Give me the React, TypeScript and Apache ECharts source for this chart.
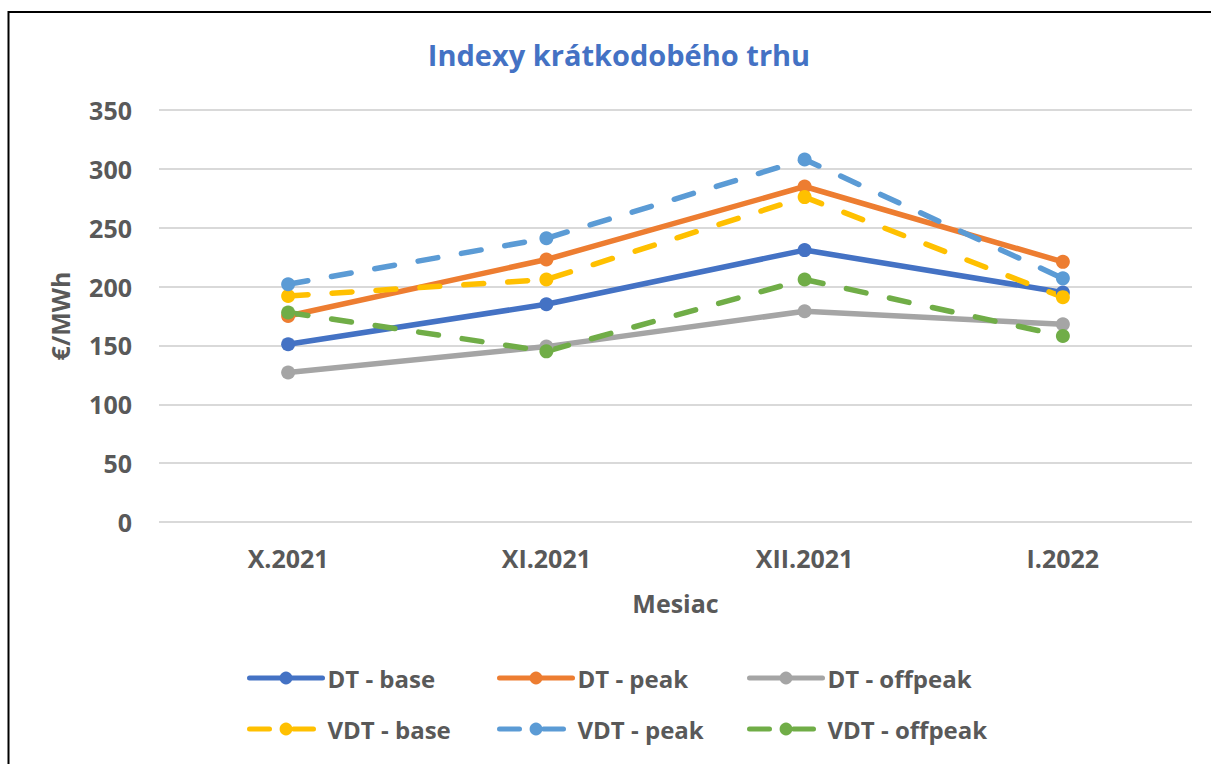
import React, { useEffect, useRef } from "react";
import * as echarts from "echarts";

const categories = ["X.2021", "XI.2021", "XII.2021", "I.2022"];
const dtBase = [151, 185, 231, 195];
const dtPeak = [175, 223, 285, 221];
const dtOffpeak = [127, 149, 179, 168];
const vdtBase = [192, 206, 276, 191];
const vdtPeak = [202, 241, 308, 207];
const vdtOffpeak = [178, 145, 206, 158];
const yTicks = { min: 0, max: 350, interval: 50 };

const FONT = "'Open Sans', 'Noto Sans', sans-serif";
const TXT = "#595959";

const seriesDefs = [
  { name: "DT - base", data: dtBase, color: "#4472C4", dashed: false, lx: 247, ly: 0 },
  { name: "DT - peak", data: dtPeak, color: "#ED7D31", dashed: false, lx: 497, ly: 0 },
  { name: "DT - offpeak", data: dtOffpeak, color: "#A5A5A5", dashed: false, lx: 747, ly: 0 },
  { name: "VDT - base", data: vdtBase, color: "#FFC000", dashed: true, lx: 247, ly: 1 },
  { name: "VDT - peak", data: vdtPeak, color: "#5B9BD5", dashed: true, lx: 497, ly: 1 },
  { name: "VDT - offpeak", data: vdtOffpeak, color: "#70AD47", dashed: true, lx: 747, ly: 1 },
];

export default function App() {
  const ref = useRef<HTMLDivElement>(null);
  useEffect(() => {
    if (!ref.current) return;
    const chart = echarts.init(ref.current, undefined, { renderer: "svg" });
    const option: any = {
      animation: false,
      backgroundColor: "#ffffff",
      title: {
        text: "Indexy krátkodobého trhu",
        left: 614,
        top: 35,
        textAlign: "center",
        textStyle: { color: "#4472C4", fontSize: 29, fontWeight: "bold", fontFamily: FONT },
      },
      graphic: [
        {
          type: "rect",
          shape: { x: 8.5, y: 12, width: 1400, height: 900 },
          style: { fill: "none", stroke: "#000000", lineWidth: 2 },
          silent: true,
          z: 100,
        },
      ],
      grid: { left: 159, right: 19, top: 110, bottom: 242, containLabel: false },
      xAxis: {
        type: "category",
        data: categories,
        boundaryGap: true,
        name: "Mesiac",
        nameLocation: "middle",
        nameGap: 68,
        nameTextStyle: { color: TXT, fontSize: 25, fontWeight: "bold", fontFamily: FONT },
        axisLine: { show: false },
        axisTick: { show: false },
        axisLabel: { color: TXT, fontSize: 25, fontWeight: "bold", fontFamily: FONT, margin: 23 },
      },
      yAxis: {
        type: "value",
        min: yTicks.min,
        max: yTicks.max,
        interval: yTicks.interval,
        name: "€/MWh",
        nameLocation: "middle",
        nameGap: 87,
        nameRotate: 90,
        nameTextStyle: { color: TXT, fontSize: 25, fontWeight: "bold", fontFamily: FONT },
        axisLine: { show: false },
        axisTick: { show: false },
        axisLabel: { color: TXT, fontSize: 25, fontWeight: "bold", fontFamily: FONT, margin: 27 },
        splitLine: { lineStyle: { color: "#D9D9D9", width: 2 } },
      },
      legend: seriesDefs.map((s) => ({
        data: [s.name],
        left: s.lx,
        top: s.ly === 0 ? 666 : 717,
        padding: 0,
        itemWidth: 73,
        itemHeight: 16,
        selectedMode: false,
        lineStyle: { width: 5, cap: "round" },
        textStyle: { color: TXT, fontSize: 24, fontWeight: "bold", fontFamily: FONT },
      })),
      series: seriesDefs.map((s) => ({
        name: s.name,
        type: "line",
        data: s.data,
        symbol: "circle",
        symbolSize: 14,
        color: s.color,
        itemStyle: { color: s.color },
        lineStyle: {
          color: s.color,
          width: 5.5,
          type: s.dashed ? [20, 24] : "solid",
          cap: "round",
          join: "round",
        },
      })),
    };
    chart.setOption(option);
    return () => chart.dispose();
  }, []);
  return (
    <div
      ref={ref}
      style={{ position: "absolute", left: 0, top: 0, width: 1211, height: 764 }}
    />
  );
}
